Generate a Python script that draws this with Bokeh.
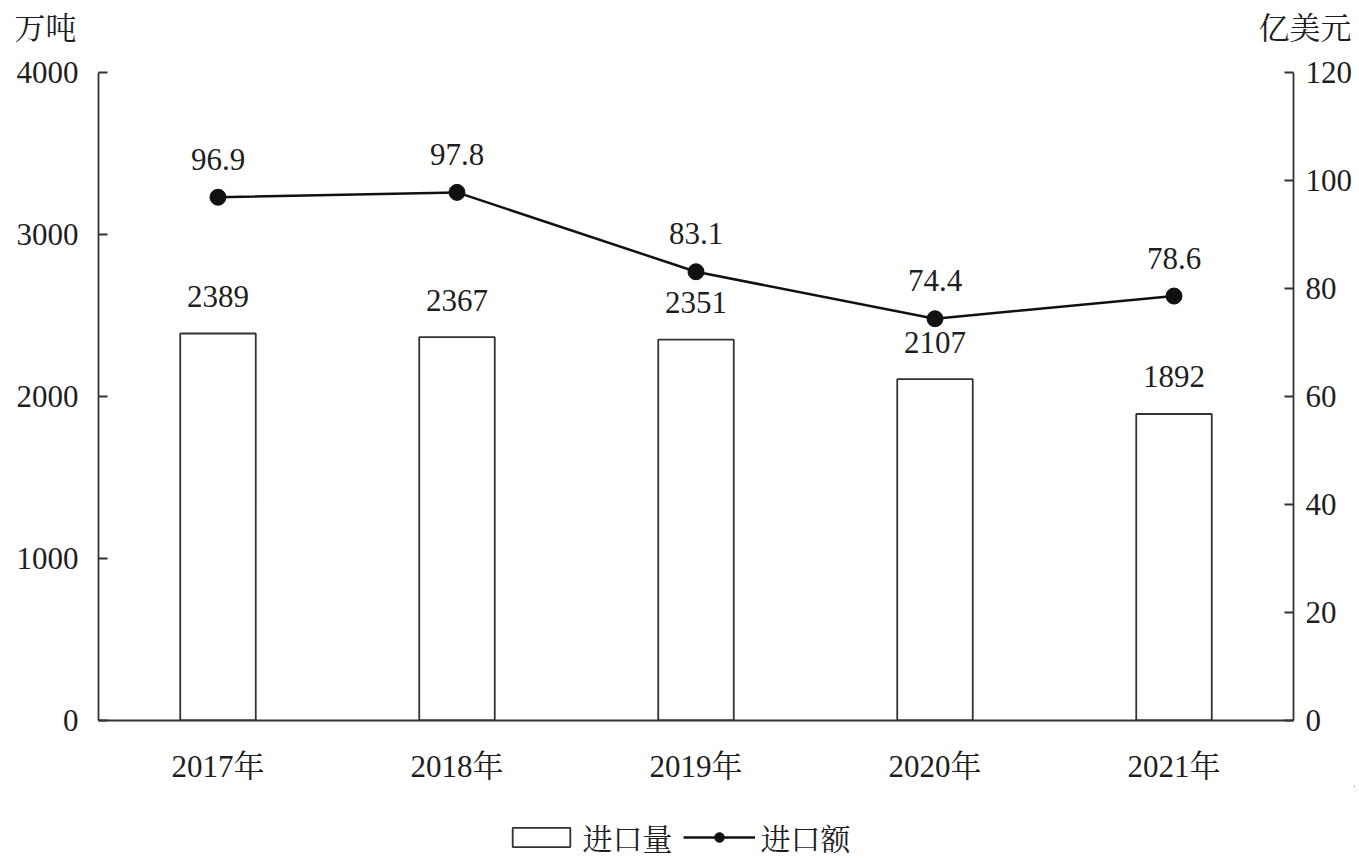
from bokeh.plotting import figure
from bokeh.layouts import column
from bokeh.models import (Range1d, LinearAxis, ColumnDataSource, LabelSet,
                          Legend, LegendItem, FixedTicker, FactorRange)
from bokeh.embed import file_html
from bokeh.resources import INLINE
from bokeh.core.properties import value

years = ["2017年", "2018年", "2019年", "2020年", "2021年"]
volume = [2389, 2367, 2351, 2107, 1892]        # 进口量 万吨
amount = [96.9, 97.8, 83.1, 74.4, 78.6]        # 进口额 亿美元
left_unit = "万吨"
right_unit = "亿美元"

FONT = "'Liberation Serif', 'Times New Roman', 'Noto Serif CJK SC', 'Noto Sans CJK SC', serif"
FS = "31px"
INK = "#1e1e1e"
AX = "#333333"
W = 1355
LB, RB = 98, 62
FW, FH = W - LB - RB, 648
HEAD = 50


def bare(fig):
    fig.outline_line_color = None
    fig.grid.grid_line_color = None
    try:
        fig.frame_align = False
    except Exception:
        pass
    return fig

# ---- header with the two unit captions ----
head = bare(figure(width=W, height=HEAD, x_range=Range1d(0, W), y_range=Range1d(0, HEAD),
                   x_axis_type=None, y_axis_type=None, output_backend="svg",
                   toolbar_location=None, min_border=0))
head.text(x=[LB - 22], y=[HEAD - 28], text=[left_unit], text_align="right",
          text_baseline="middle", text_font=value(FONT), text_font_size=FS, text_color=INK)
head.text(x=[W - 4], y=[HEAD - 28], text=[right_unit], text_align="right",
          text_baseline="middle", text_font=value(FONT), text_font_size=FS, text_color=INK)

# ---- main chart ----
src = ColumnDataSource(dict(
    x=years, v=volume, a=amount,
    vl=[str(v) for v in volume], al=[f"{a:.1f}" for a in amount],
))

p = figure(x_range=FactorRange(*years), y_range=Range1d(0, 4000),
           frame_width=FW, frame_height=FH, output_backend="svg", toolbar_location=None,
           min_border_left=LB, min_border_right=RB, min_border_top=72 - HEAD,
           min_border_bottom=64)
p.outline_line_color = None
p.grid.grid_line_color = None
p.extra_y_ranges = {"amt": Range1d(0, 120)}

bar_style = dict(fill_color="white", line_color=AX, line_width=1.8)
line_style = dict(line_color="#111111", line_width=2.5)

p.vbar(x="x", top="v", width=0.316, source=src, **bar_style)
p.line(x="x", y="a", source=src, y_range_name="amt", **line_style)
p.scatter(x="x", y="a", source=src, y_range_name="amt", size=16,
          fill_color="#111111", line_color="#111111")

p.add_layout(LabelSet(x="x", y="v", text="vl", source=src, y_offset=37,
                      text_align="center", text_baseline="middle",
                      text_font=value(FONT), text_font_size=FS, text_color=INK))
p.add_layout(LabelSet(x="x", y="a", text="al", source=src, y_range_name="amt", y_offset=38,
                      text_align="center", text_baseline="middle",
                      text_font=value(FONT), text_font_size=FS, text_color=INK))

def style(ax):
    ax.axis_line_color = AX
    ax.axis_line_width = 1.8
    ax.major_tick_line_color = AX
    ax.major_tick_line_width = 1.8
    ax.major_tick_in = 9
    ax.major_tick_out = 0
    ax.minor_tick_line_color = None
    ax.major_label_text_font = FONT
    ax.major_label_text_font_size = FS
    ax.major_label_text_color = INK

ly = p.yaxis[0]
style(ly)
ly.ticker = FixedTicker(ticks=[0, 1000, 2000, 3000, 4000])
ly.major_label_standoff = 20

ry = LinearAxis(y_range_name="amt", ticker=FixedTicker(ticks=[0, 20, 40, 60, 80, 100, 120]))
style(ry)
ry.major_label_standoff = 12
p.add_layout(ry, "right")

xa = p.xaxis[0]
style(xa)
xa.major_tick_line_color = None
xa.major_label_standoff = 28

# ---- footer with the legend (legend glyphs reuse the series, drawn off-range) ----
foot = bare(figure(width=W, height=73, x_range=Range1d(-20000, -10000),
                   y_range=Range1d(-20000, -10000),
                   x_axis_type=None, y_axis_type=None, output_backend="svg",
                   toolbar_location=None, min_border=0))
rb = foot.vbar(x="v", top="v", bottom="v", width=1, source=src, **bar_style)
rl = foot.line(x="a", y="a", source=src, **line_style)
rs = foot.scatter(x="a", y="a", source=src, size=16, fill_color="#111111", line_color="#111111")
legend = Legend(items=[LegendItem(label="进口量", renderers=[rb]),
                       LegendItem(label="进口额", renderers=[rl, rs])],
                orientation="horizontal", location="bottom_center",
                glyph_width=72, glyph_height=24, label_text_font=FONT,
                label_text_font_size="30px", label_text_color=INK,
                border_line_color=None, background_fill_alpha=0,
                spacing=10, label_standoff=6, padding=4, margin=0)
foot.add_layout(legend, "center")

layout = column(head, p, foot, spacing=0)
open("out.html", "w").write(file_html(layout, INLINE))
